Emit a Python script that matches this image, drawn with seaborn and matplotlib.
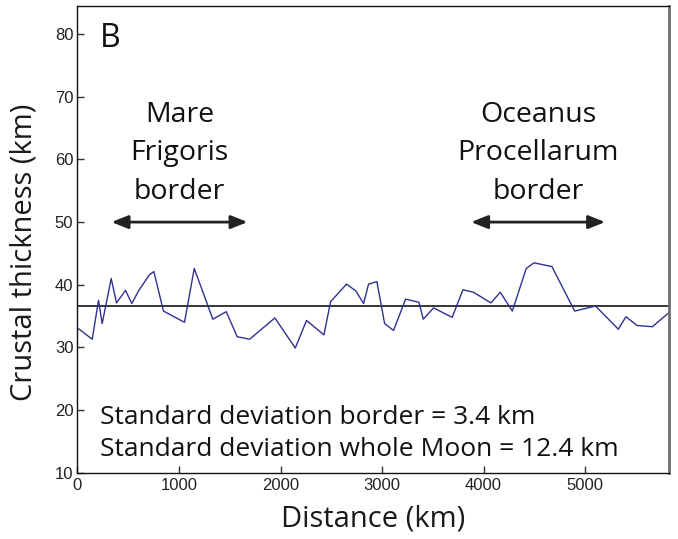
import matplotlib
matplotlib.use("Agg")
import matplotlib.pyplot as plt
import seaborn as sns
import pandas as pd

# Crustal thickness profile along the border of the Procellarum region
distance_km = [0, 145, 207, 243, 332, 384, 473, 535, 604, 709, 752, 847, 1054,
               1150, 1333, 1465, 1573, 1695, 1944, 2145, 2256, 2427, 2493, 2650,
               2742, 2818, 2867, 2949, 3025, 3113, 3232, 3363, 3406, 3507, 3691,
               3796, 3901, 4072, 4164, 4283, 4420, 4496, 4673, 4897, 5103, 5327,
               5402, 5511, 5662, 5830]
thickness_km = [33.1, 31.3, 37.5, 33.8, 41.0, 37.1, 39.1, 37.0, 39.1, 41.6, 42.1,
                35.8, 34.0, 42.6, 34.5, 35.7, 31.7, 31.3, 34.7, 29.9, 34.3, 32.0,
                37.3, 40.1, 39.0, 37.0, 40.1, 40.5, 33.8, 32.7, 37.7, 37.2, 34.5,
                36.3, 34.8, 39.2, 38.8, 37.1, 38.8, 35.8, 42.6, 43.5, 42.9, 35.8,
                36.6, 32.9, 34.9, 33.5, 33.3, 35.6]
mean_thickness = 36.6

# Extents of the two labelled border segments (km along profile)
mare_frigoris_span = [335, 1675]
procellarum_span = [3877, 5197]
std_border = 3.4
std_moon = 12.4

x_ticks = [0, 1000, 2000, 3000, 4000, 5000]
y_ticks = [10, 20, 30, 40, 50, 60, 70, 80]

sns.set_style("ticks")
plt.rcParams['font.family'] = ['Open Sans', 'DejaVu Sans']

fig = plt.figure(figsize=(6.78, 5.39), dpi=100)
ax = fig.add_axes([0.1143, 0.123, 0.873, 0.866])

df = pd.DataFrame({"distance": distance_km, "thickness": thickness_km})
sns.lineplot(data=df, x="distance", y="thickness", ax=ax, color="#2e3192",
             linewidth=1.0, sort=False)
ax.axhline(mean_thickness, color="black", linewidth=1.1, zorder=1)

ax.set_xlim(0, 5830)
ax.set_ylim(10, 84.5)
ax.set_xticks(x_ticks)
ax.set_yticks(y_ticks)
ax.tick_params(direction="in", length=5, width=1, color="#333333",
               labelcolor="#222222", labelsize=12)
ax.tick_params(axis="y", pad=3)
ax.tick_params(axis="x", pad=4)
for lab in ax.get_xticklabels() + ax.get_yticklabels():
    lab.set_fontfamily("Liberation Sans")

for side in ["left", "bottom", "top"]:
    ax.spines[side].set_color("#111111")
    ax.spines[side].set_linewidth(1.0)
ax.spines["right"].set_color("#6e6e6e")
ax.spines["right"].set_linewidth(2.0)

ax.set_xlabel("Distance (km)", fontsize=21, labelpad=8, color="#1a1a1a")
ax.set_ylabel("Crustal thickness (km)", fontsize=21, color="#1a1a1a")
ax.yaxis.set_label_coords(-0.066, 0.473)

ax.text(217, 77.9, "B", fontsize=23, ha="left", va="baseline", color="#111111")

ax.text(sum(mare_frigoris_span) / 2, 61.0, "Mare\nFrigoris\nborder",
        fontsize=20.5, ha="center", va="center", linespacing=1.5, color="#111111")
ax.text(sum(procellarum_span) / 2, 61.0, "Oceanus\nProcellarum\nborder",
        fontsize=20.5, ha="center", va="center", linespacing=1.5, color="#111111")

arrow_style = dict(arrowstyle="<|-|>,head_length=1.0,head_width=0.4",
                   color="#222222", lw=2, shrinkA=0, shrinkB=0)
for span in (mare_frigoris_span, procellarum_span):
    ax.annotate("", xy=(span[0], 50), xytext=(span[1], 50), arrowprops=arrow_style)

ax.text(217, 16.3,
        f"Standard deviation border = {std_border} km\n"
        f"Standard deviation whole Moon = {std_moon} km",
        fontsize=19, ha="left", va="center", linespacing=1.37, color="#111111")

fig.savefig("out.png", dpi=100)
